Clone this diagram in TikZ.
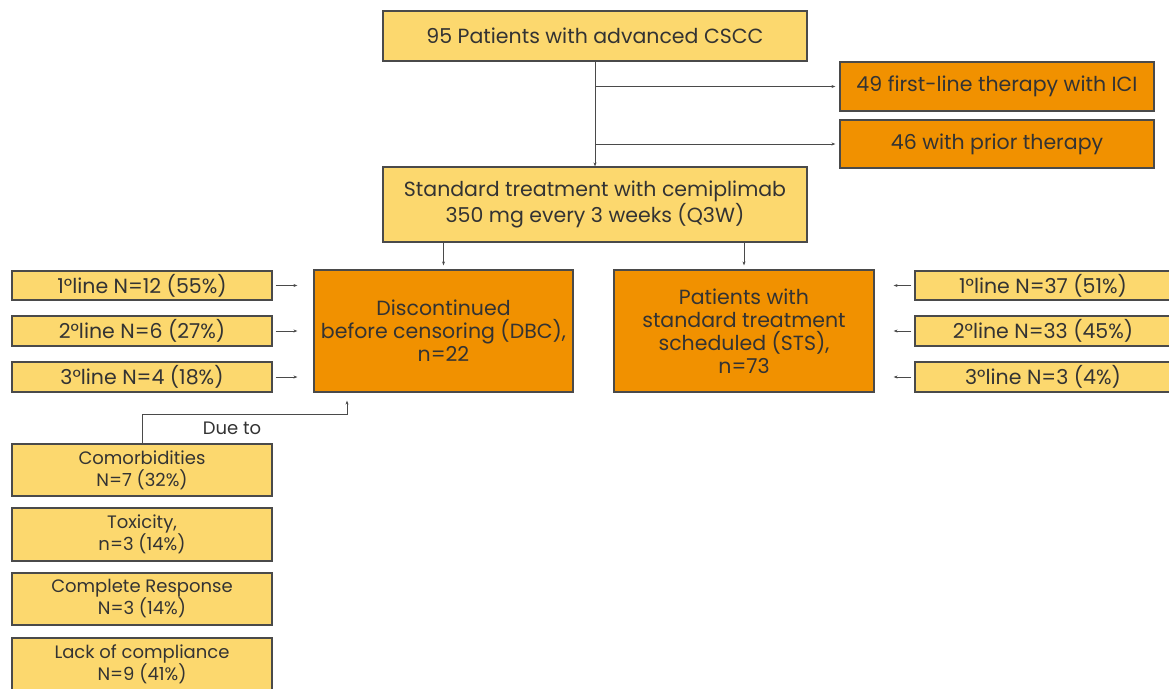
\documentclass[tikz,border=0pt]{standalone}
\usepackage{fontspec}
\setmainfont{Poppins}
\usetikzlibrary{arrows.meta}

\definecolor{paleyel}{HTML}{FCD86E}
\definecolor{deeporng}{HTML}{F19100}
\definecolor{edgegray}{HTML}{4A4A4A}
\definecolor{inkgray}{HTML}{333333}

\tikzset{
  box/.style={draw=edgegray, line width=1.2pt, text=inkgray, align=center, inner sep=2pt},
  yelbox/.style={box, fill=paleyel},
  orgbox/.style={box, fill=deeporng},
  arr/.style={draw=edgegray, line width=0.9pt, -{Stealth[length=4pt,width=3pt]}},
  big/.style={font=\fontsize{20.5}{23}\selectfont},
  mid/.style={font=\fontsize{20.5}{23}\selectfont},
  small/.style={font=\fontsize{18}{22}\selectfont}
}

\begin{document}
\begin{tikzpicture}[x=1pt,y=-1pt]
\useasboundingbox[fill=white] (0,0) rectangle (1169,688);

% top part
\node[yelbox, big, minimum width=424pt, minimum height=50pt] (all) at (595,36) {95 Patients with advanced CSCC};
\node[orgbox, big, minimum width=314pt, minimum height=49pt] (ici) at (997,86.5) {49 first-line therapy with ICI};
\node[orgbox, big, minimum width=314pt, minimum height=48pt] (prior) at (997,144) {46 with prior therapy};
\node[yelbox, big, minimum width=424pt, minimum height=75pt] (std) at (595,204.5) {Standard treatment with cemiplimab\\350 mg every 3 weeks (Q3W)};

\draw[arr] (all.south) -- (std.north);
\draw[arr, shorten >=4pt] (all.south |- ici.west) -- (ici.west);
\draw[arr, shorten >=4pt] (all.south |- prior.west) -- (prior.west);

% the two arms
\node[orgbox, big, minimum width=259pt, minimum height=122pt] (dbc) at (443.5,331) {Discontinued\\before censoring (DBC),\\n=22};
\node[orgbox, big, minimum width=260pt, minimum height=122pt] (sts) at (744,331) {Patients with\\standard treatment\\scheduled (STS),\\n=73};

\draw[arr, shorten >=4pt] (std.south -| dbc.north) -- (dbc.north);
\draw[arr, shorten >=4pt] (std.south -| sts.north) -- (sts.north);

% lines of therapy, DBC
\node[yelbox, mid, minimum width=260pt, minimum height=29pt] (dl1) at (142,285.5) {1°line N=12 (55\%)};
\node[yelbox, mid, minimum width=260pt, minimum height=30pt] (dl2) at (142,331) {2°line N=6 (27\%)};
\node[yelbox, mid, minimum width=260pt, minimum height=30pt] (dl3) at (142,377) {3°line N=4 (18\%)};
\foreach \n in {dl1,dl2,dl3}
  \draw[arr, shorten <=3pt, shorten >=16pt] (\n.east) -- (\n.east -| dbc.west);

% lines of therapy, STS
\node[yelbox, mid, minimum width=256pt, minimum height=29pt] (sl1) at (1043,285.5) {1°line N=37 (51\%)};
\node[yelbox, mid, minimum width=256pt, minimum height=30pt] (sl2) at (1043,331) {2°line N=33 (45\%)};
\node[yelbox, mid, minimum width=256pt, minimum height=30pt] (sl3) at (1043,377) {3°line N=3 (4\%)};
\foreach \n in {sl1,sl2,sl3}
  \draw[arr, shorten <=3pt, shorten >=19pt] (\n.west) -- (\n.west -| sts.east);

% reasons for discontinuation
\node[yelbox, small, minimum width=260pt, minimum height=52pt] (comorb) at (142,470) {Comorbidities\\N=7 (32\%)};
\node[yelbox, small, minimum width=260pt, minimum height=53pt] (toxic) at (142,534.5) {Toxicity,\\n=3 (14\%)};
\node[yelbox, small, minimum width=260pt, minimum height=52pt] (cresp) at (142,599) {Complete Response\\N=3 (14\%)};
\node[yelbox, small, minimum width=260pt, minimum height=52pt] (lackc) at (142,664) {Lack of compliance\\N=9 (41\%)};

\draw[arr] (comorb.north) -- ++(0,-29) -| ([xshift=-96.5pt,yshift=-8pt]dbc.south);
\node[small, text=inkgray] (dueto) at (232,428) {Due to};
\end{tikzpicture}
\end{document}
